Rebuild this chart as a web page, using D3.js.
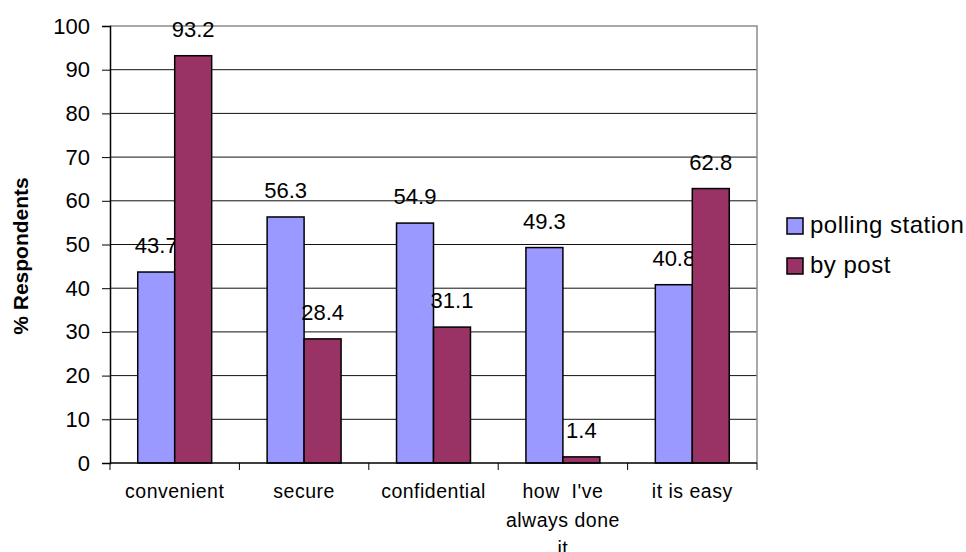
<!DOCTYPE html>
<html>
<head>
<meta charset="utf-8">
<script src="https://cdn.jsdelivr.net/npm/d3@7"></script>
<style>
  html, body { margin: 0; padding: 0; background: #fff; }
  svg { display: block; font-family: "Liberation Sans", Arial, sans-serif; }
</style>
</head>
<body>
<svg id="chart" width="966" height="552"></svg>
<script>
// Reasons for voting method, % of respondents
const categories = ["convenient", "secure", "confidential", "how I've always done it", "it is easy"];
const categoryLines = [["convenient"], ["secure"], ["confidential"], ["how  I've", "always done", "it"], ["it is easy"]];
const seriesNames = ["polling station", "by post"];
const pollingStation = [43.7, 56.3, 54.9, 49.3, 40.8];
const byPost = [93.2, 28.4, 31.1, 1.4, 62.8];
const yTicks = [0, 10, 20, 30, 40, 50, 60, 70, 80, 90, 100];
const colors = ["#9999FF", "#993366"];

const svg = d3.select("#chart");
const plot = { left: 110, right: 757, top: 26, bottom: 463 };

const x = d3.scaleBand().domain(categories).range([plot.left, plot.right]).paddingInner(0).paddingOuter(0);
const y = d3.scaleLinear().domain([0, 100]).range([plot.bottom, plot.top]);

// bars occupy 2 of 3.5 units of each category band (gap width 150%)
const barW = x.bandwidth() / 3.5;
const groupOffset = x.bandwidth() * 0.75 / 3.5;

// gridlines
svg.append("g").selectAll("line").data(yTicks.filter(t => t > 0 && t < 100)).join("line")
  .attr("x1", plot.left).attr("x2", plot.right)
  .attr("y1", d => y(d)).attr("y2", d => y(d))
  .attr("stroke", "#111").attr("stroke-width", 1);

// plot area border (top and right)
svg.append("path")
  .attr("d", `M${plot.left},${y(100)}H${plot.right}V${plot.bottom}`)
  .attr("fill", "none").attr("stroke", "#8c8c8c").attr("stroke-width", 1.5);

// y axis
const yAxis = svg.append("g").attr("transform", `translate(${plot.left},0)`)
  .call(d3.axisLeft(y).tickValues(yTicks).tickSize(8).tickPadding(12).tickFormat(d3.format("d")));
yAxis.select(".domain").attr("stroke", "#000").attr("stroke-width", 1.5);
yAxis.selectAll(".tick line").attr("stroke", "#000");
yAxis.selectAll(".tick text").attr("font-size", 22).attr("fill", "#000")
  .attr("font-family", "Liberation Sans, Arial, sans-serif");

// bars, each series followed by its value labels (later bars cover earlier labels)
const series = [pollingStation, byPost];
series.forEach((vals, si) => {
  svg.append("g").selectAll("rect").data(categories).join("rect")
    .attr("x", (c) => x(c) + groupOffset + si * barW)
    .attr("y", (c, i) => y(vals[i]))
    .attr("width", barW)
    .attr("height", (c, i) => y(0) - y(vals[i]))
    .attr("fill", colors[si])
    .attr("stroke", "#000").attr("stroke-width", 1.5);
  svg.append("g").selectAll("text").data(categories).join("text")
    .attr("x", (c) => x(c) + groupOffset + si * barW + barW / 2)
    .attr("y", (c, i) => y(vals[i]) - 19)
    .attr("text-anchor", "middle")
    .attr("font-size", 22)
    .text((c, i) => vals[i].toFixed(1));
});

// x axis
const xAxis = svg.append("g").attr("transform", `translate(0,${plot.bottom})`);
xAxis.append("line").attr("x1", plot.left).attr("x2", plot.right)
  .attr("stroke", "#000").attr("stroke-width", 1.5);
const boundaries = categories.map(c => x(c)).concat([plot.right]);
xAxis.selectAll(".tk").data(boundaries).join("line")
  .attr("x1", d => d).attr("x2", d => d).attr("y1", 0).attr("y2", 7)
  .attr("stroke", "#000").attr("stroke-width", 1);
categories.forEach((c, i) => {
  const t = xAxis.append("text")
    .attr("x", x(c) + x.bandwidth() / 2)
    .attr("y", 35)
    .attr("text-anchor", "middle")
    .attr("font-size", 19.5)
    .attr("letter-spacing", 0.5)
    .attr("xml:space", "preserve");
  categoryLines[i].forEach((line, li) => {
    t.append("tspan").attr("x", x(c) + x.bandwidth() / 2).attr("dy", li === 0 ? 0 : 28.5).text(line);
  });
});

// y axis title
svg.append("text")
  .attr("transform", `translate(28,256) rotate(-90)`)
  .attr("text-anchor", "middle")
  .attr("font-size", 21).attr("font-weight", "bold")
  .text("% Respondents");

// legend
const legend = svg.append("g").attr("transform", "translate(787,218)");
seriesNames.forEach((name, i) => {
  const g = legend.append("g").attr("transform", `translate(0,${i * 40})`);
  g.append("rect").attr("width", 16).attr("height", 16)
    .attr("fill", colors[i]).attr("stroke", "#000").attr("stroke-width", 1.5);
  g.append("text").attr("x", 23).attr("y", 14.5).attr("font-size", 24)
    .attr("letter-spacing", 0.5).text(name);
});
</script>
</body>
</html>
